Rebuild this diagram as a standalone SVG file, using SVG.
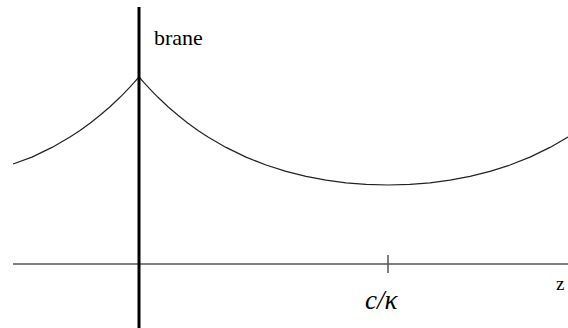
<svg xmlns="http://www.w3.org/2000/svg" width="568" height="328" viewBox="0 0 568 328">
<style>
.ax{stroke:#555;stroke-width:1.5;fill:none}
.cv{stroke:#222;stroke-width:1.2;fill:none;stroke-linejoin:round}
.t{font-family:'Liberation Serif','Times New Roman','DejaVu Serif',serif;fill:#000}
</style>
<rect width="568" height="328" fill="#fff"/>
<g id="connectors">
<line class="ax" x1="13" y1="264" x2="568" y2="264"/>
<line class="ax" x1="388" y1="255" x2="388" y2="273"/>
<polyline class="cv" points="13,164 32,157.1 52,147.4 70,137.1 80,130.4 90,123.2 100,115.3 110,106.7 120,97.3 128,89.1 134,82.7 139,77"/>
<polyline class="cv" points="139,77 144,82.7 150,89.1 158,97.3 168,106.7 178,115.3 188,123.2 198,130.4 208,137.1 226,147.4 246,157.1 266,165 286,171.4 306,176.4 326,180.1 346,182.8 366,184.4 388,185 410,184.4 430,182.8 450,180.1 470,176.4 490,171.4 510,165 530,157.1 550,147.4 568,137.1"/>
</g>
<g id="brane">
<line x1="139" y1="7" x2="139" y2="328" stroke="#000" stroke-width="3"/>
<text class="t" x="154" y="45" font-size="22">brane</text>
</g>
<g id="label-c">
<text class="t" x="365" y="309" font-size="27" font-style="italic">c/κ</text>
</g>
<g id="label-z">
<text class="t" x="556" y="290" font-size="19">z</text>
</g>
</svg>
